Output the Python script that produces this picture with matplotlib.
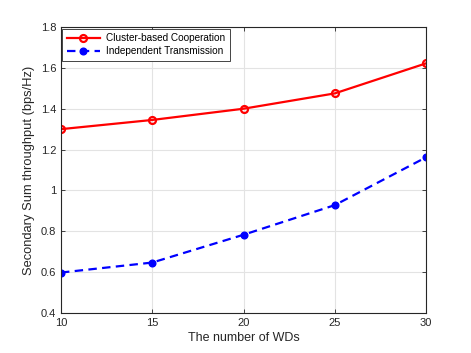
import matplotlib.pyplot as plt

plt.rcParams['font.family'] = ['Liberation Sans', 'DejaVu Sans']

# data
num_wds = [10, 15, 20, 25, 30]
cluster_coop = [1.30, 1.345, 1.40, 1.475, 1.622]
independent = [0.598, 0.647, 0.783, 0.928, 1.162]

fig = plt.figure(figsize=(4.71, 3.53), dpi=100)
ax = fig.add_axes([0.1295, 0.1133, 0.775, 0.8102])

ax.plot(num_wds, cluster_coop, color='red', linestyle='-', linewidth=1.6,
        marker='o', markersize=5, markerfacecolor='none', markeredgewidth=1.6,
        label='Cluster-based Cooperation')
ax.plot(num_wds, independent, color='blue', linestyle='--', linewidth=1.6,
        dashes=(3.8, 2.4), marker='o', markersize=4.8, markerfacecolor='blue',
        label='Independent Transmission')

ax.set_xlim(10, 30)
ax.set_ylim(0.4, 1.8)
ax.set_xticks([10, 15, 20, 25, 30])
ax.set_yticks([0.4, 0.6, 0.8, 1.0, 1.2, 1.4, 1.6, 1.8])
ax.set_yticklabels(['0.4', '0.6', '0.8', '1', '1.2', '1.4', '1.6', '1.8'])

ax.grid(True, color='#e3e3e3', linewidth=0.8)
ax.set_axisbelow(True)
for s in ax.spines.values():
    s.set_color('#262626')
    s.set_linewidth(0.8)
ax.tick_params(direction='in', length=3, width=0.6, colors='#262626',
               labelsize=8, top=True, right=True)

ax.set_xlabel('The number of WDs', fontsize=9, color='#262626', labelpad=3)
ax.set_ylabel('Secondary Sum throughput (bps/Hz)', fontsize=9.3, color='#262626',
              labelpad=4)

leg = ax.legend(loc='upper left', fontsize=7.2, borderaxespad=0.15, fancybox=False,
                handlelength=3.3, handletextpad=0.6, borderpad=0.45,
                labelspacing=0.3)
leg.get_frame().set_edgecolor('#262626')
leg.get_frame().set_linewidth(0.6)
leg.get_frame().set_alpha(1)

fig.savefig('out.png', dpi=100)
